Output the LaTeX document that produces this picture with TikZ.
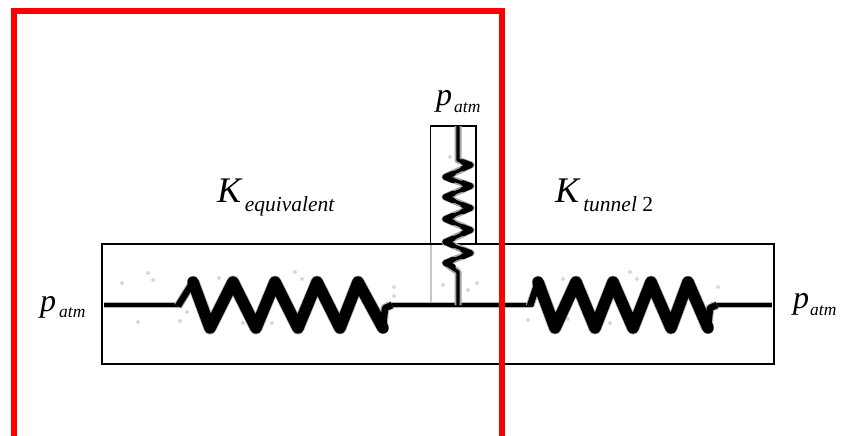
\documentclass[tikz,border=0pt]{standalone}
\usepackage{fontspec}
\setmainfont{Liberation Serif}
\newcommand{\lblA}[3]{\textit{\fontsize{36}{36}\selectfont K}\hspace{#3}\raisebox{-9.5pt}{\fontsize{21.5}{21.5}\selectfont #1}}
\newcommand{\lblB}[3]{\textit{\fontsize{32}{32}\selectfont #1}\hspace{#3}\raisebox{-6.5pt}{\textit{\fontsize{17.5}{17.5}\selectfont #2}}}
\tikzset{
  frame/.style={draw=black,line width=2pt},
  redframe/.style={draw=red,line width=6pt,line join=miter},
  halo/.style={draw=black!30,line width=#1,line join=round},
  springline/.style={draw=black,line width=#1,line join=round},
  speck/.style={draw=black!30,line width=0.6pt},
  lbl/.style={inner sep=0pt,anchor=base west}
}
\begin{document}
\begin{tikzpicture}[x=1pt,y=-1pt]
\useasboundingbox (0,0) rectangle (841,436);
\clip (0,0) rectangle (841,436);
% frames
\coordinate (bigNW) at (102,244);
\coordinate (bigSE) at (774,363.5);
\draw[frame] (bigNW) rectangle (bigSE);
\coordinate (topNW) at (430.5,126);
\coordinate (topSE) at (476,244);
\draw[frame,line width=1.6pt] (topNW) rectangle (topSE);
\draw[draw=black!22,line width=1.6pt] (431,245) -- (431,305);
% faint scan specks
\foreach \x/\y in {148/273,153/280,122/283,138/322,219/278,295/272,302/279,394/287,394/296,272/323,243/323,180/321,187/312,630/272,637/279,563/279,718/287,528/320,568/319,610/323,443/285,468/290,477/283,450/157}{
  \draw[speck] (\x,\y) circle (1.5pt);
}
% horizontal wire
\def\hpath{(104,305) -- (180,305) (386,305) -- (532,305) (711,305) -- (772,305)}
\draw[draw=black!30,line width=6.5pt] \hpath;
\draw[draw=black,line width=4.6pt] \hpath;
% thick zigzags
\def\lz{(193,282) -- (210,328) -- (233,282) -- (256,328) -- (275,282) -- (298,328) -- (317,282) -- (340,328) -- (358,282) -- (383,328)}
\def\rz{(538,282) -- (555,328) -- (576,282) -- (595,328) -- (613,282) -- (633,328) -- (651,282) -- (671,328) -- (688,282) -- (708,328)}
\def\lends{(178,306) -- (193,282) (383,328) -- (385,308) -- (392,305)}
\def\rends{(530,306) -- (538,282) (708,328) -- (710,308) -- (717,305)}
\draw[draw=black!30,line width=8.5pt,line join=round] \lends;
\draw[draw=black!30,line width=8.5pt,line join=round] \rends;
\draw[halo=13pt] \lz;
\draw[halo=13pt] \rz;
\draw[springline=6.5pt] \lends;
\draw[springline=6.5pt] \rends;
\draw[springline=11.5pt,line cap=round] \lz;
\draw[springline=11.5pt,line cap=round] \rz;
% vertical spring
\def\vpath{(458,126) -- (458,160) -- (471,165) -- (445,177) -- (471,186) -- (445,197) -- (471,208) -- (445,219) -- (471,230) -- (445,242) -- (471,253) -- (445,263) -- (458,272) -- (458,305)}
\draw[draw=black!35,line width=7pt,line join=round] \vpath;
\draw[springline=3.4pt] \vpath;
\foreach \y in {165,186,208,230,253}{
  \draw[springline=5.5pt,line cap=round] (463,\y-3) -- (471,\y) -- (463,\y+3.5);
}
\foreach \y in {177,197,219,242,263}{
  \draw[springline=5.5pt,line cap=round] (453,\y-3.5) -- (445,\y) -- (453,\y+3.5);
}
% red frame
\coordinate (redNW) at (14,11);
\coordinate (redNE) at (502,11);
\draw[redframe] (14,445) -- (redNW) -- (redNE) -- (502,445);
% labels
\node[lbl] (pl) at (40,311) {\lblB{p}{atm}{3pt}};
\node[lbl] (pt) at (436,106) {\lblB{p}{atm}{2pt}};
\node[lbl] (pr) at (793,308.5) {\lblB{p}{atm}{1pt}};
\node[lbl] (ke) at (217,202) {\lblA{\textit{equivalent}}{}{2pt}};
\node[lbl] (kt) at (555,202) {\lblA{\textit{tunnel} 2}{}{2.5pt}};
\end{tikzpicture}
\end{document}
